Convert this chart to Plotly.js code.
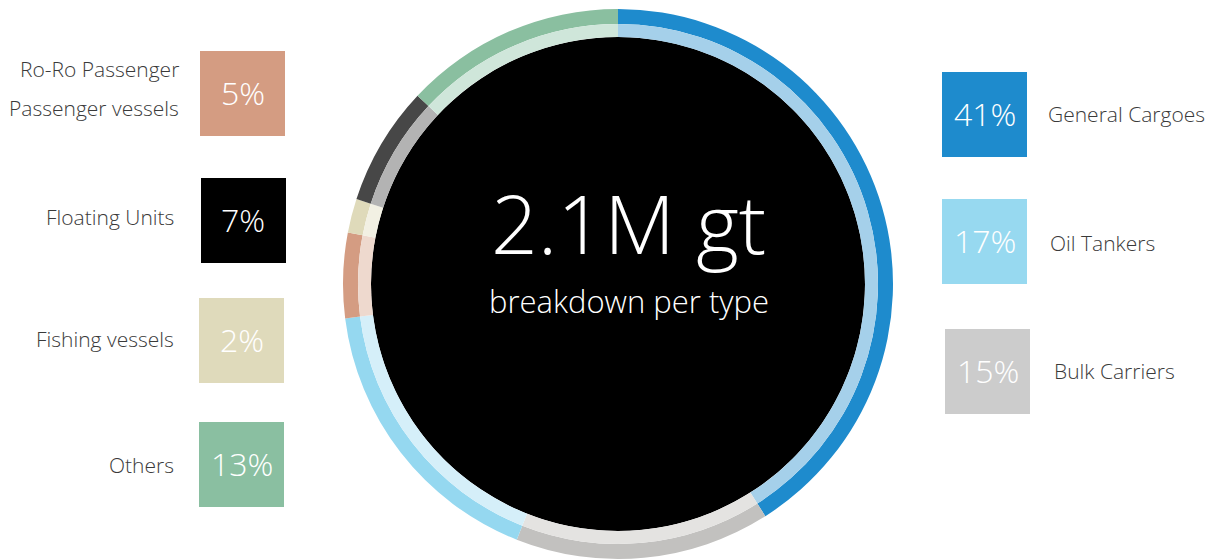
<!DOCTYPE html>
<html>
<head>
<meta charset="utf-8">
<script src="https://cdn.plot.ly/plotly-3.0.1.min.js"></script>
<style>
html,body{margin:0;padding:0;background:#fff;}
#chart{width:1215px;height:560px;}
</style>
</head>
<body>
<div id="chart"></div>
<script>
// ---- data (ring order, clockwise from 12 o'clock) ----
const categories = ["General Cargoes", "Bulk Carriers", "Oil Tankers", "Ro-Ro Passenger<br>Passenger vessels", "Fishing vessels", "Floating Units", "Others"];
const shares = [41, 15, 17, 5, 2, 7, 13];
const totalText = "2.1M gt";
const subText = "breakdown per type";

// ---- styles ----
const outerColors = ["#1E8BCD", "#C2C1BF", "#95D8F0", "#D49C82", "#DFDABA", "#474747", "#8ABFA0"];
const innerColors = ["#A5D0EA", "#E4E3E1", "#D5EFF9", "#EED9CE", "#F2F0E3", "#B3B3B3", "#CFE6DA"];
const boxColors   = ["#1E8BCD", "#CCCCCC", "#97D9F0", "#D49C82", "#DFDABB", "#000000", "#8ABFA1"];

const W = 1215, H = 560;
const px = x => x / W, py = y => 1 - y / H;
const cx = 618, cy = 284, rOut = 275, rMid = 260, rIn = 247;

function dom(r){ return {x:[px(cx - r), px(cx + r)], y:[py(cy + r), py(cy - r)]}; }

const common = {
  type: 'pie', sort: false, direction: 'clockwise', rotation: 0,
  textinfo: 'none', hoverinfo: 'skip', showlegend: false,
  labels: categories, values: shares
};
const traces = [
  Object.assign({}, common, {domain: dom(rOut), hole: rMid / rOut, marker: {colors: outerColors, line: {width: 0}}}),
  Object.assign({}, common, {domain: dom(rMid), hole: rIn / rMid, marker: {colors: innerColors, line: {width: 0}}})
];

// legend box layout (px): [x0, y0, side, label x offset, label y offset]
const boxPos = [
  [942, 72, 'R', 104, -1], [945, 329, 'R', 107, -1], [942, 199, 'R', 106, 1],
  [200, 51, 'L', -19, -5], [199, 298, 'L', -23, -2], [201, 178, 'L', -25, -4], [199, 422, 'L', -23, 0]
];
const BS = 85;
const shapes = [{
  type: 'circle', xref: 'paper', yref: 'paper', layer: 'below',
  x0: px(cx - rIn), x1: px(cx + rIn), y0: py(cy + rIn), y1: py(cy - rIn),
  fillcolor: '#000', line: {width: 0}
}];
const annotations = [];
const labelFont = {family: 'Open Sans', size: 21, color: '#3a3a3a', weight: 300};
const pctFont = {family: 'Open Sans', size: 32, color: '#ffffff', weight: 300};
categories.forEach((c, i) => {
  const [x0, y0, side, dx, dy] = boxPos[i];
  shapes.push({type: 'rect', xref: 'paper', yref: 'paper', x0: px(x0), x1: px(x0 + BS), y0: py(y0 + BS), y1: py(y0),
    fillcolor: boxColors[i], line: {width: 0}});
  annotations.push({xref: 'paper', yref: 'paper', x: px(x0 + BS / 2), y: py(y0 + BS / 2 - 1), text: shares[i] + '%',
    showarrow: false, xanchor: 'center', yanchor: 'middle', font: pctFont});
  const lines = c.split('<br>');
  const lineGap = 40;
  lines.forEach((ln, j) => {
    const yy = y0 + BS / 2 + dy + (j - (lines.length - 1) / 2) * lineGap;
    annotations.push({xref: 'paper', yref: 'paper', x: px(side === 'R' ? x0 + dx : x0 + dx), y: py(yy), text: ln,
      showarrow: false, xanchor: side === 'R' ? 'left' : 'right', yanchor: 'middle', font: labelFont});
  });
});
annotations.push({xref: 'paper', yref: 'paper', x: px(628), y: py(222), text: totalText, showarrow: false,
  xanchor: 'center', yanchor: 'middle', font: {family: 'Open Sans', size: 82, color: '#ffffff', weight: 300}});
annotations.push({xref: 'paper', yref: 'paper', x: px(629), y: py(301), text: subText, showarrow: false,
  xanchor: 'center', yanchor: 'middle', font: {family: 'Open Sans', size: 31, color: '#ffffff', weight: 300}});

const layout = {
  width: W, height: H, margin: {l: 0, r: 0, t: 0, b: 0},
  paper_bgcolor: '#fff', plot_bgcolor: '#fff',
  shapes: shapes, annotations: annotations, showlegend: false
};
Plotly.newPlot('chart', traces, layout, {displayModeBar: false, staticPlot: true});
</script>
</body>
</html>
